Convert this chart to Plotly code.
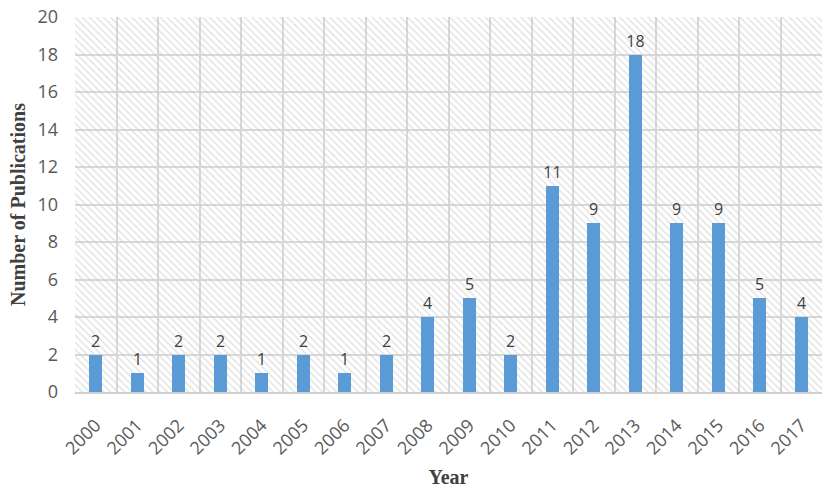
import plotly.graph_objects as go

years = ["2000", "2001", "2002", "2003", "2004", "2005", "2006", "2007", "2008",
         "2009", "2010", "2011", "2012", "2013", "2014", "2015", "2016", "2017"]
publications = [2, 1, 2, 2, 1, 2, 1, 2, 4, 5, 2, 11, 9, 18, 9, 9, 5, 4]
y_ticks = [0, 2, 4, 6, 8, 10, 12, 14, 16, 18, 20]

y_max = y_ticks[-1]
xpos = list(range(len(years)))

fig = go.Figure()

# hatched plot-area background
fig.add_trace(go.Bar(
    x=xpos, y=[y_max] * len(years), width=1.0,
    marker=dict(color="rgba(0,0,0,0)", line=dict(width=0),
                pattern=dict(shape="\\", fgcolor="#c8c8c8", bgcolor="rgba(255,255,255,0)",
                             size=5, solidity=0.3)),
    hoverinfo="skip", showlegend=False,
))

fig.add_trace(go.Bar(
    x=xpos, y=publications, width=0.32,
    marker=dict(color="#5b9bd5", line=dict(width=0)),
    text=[str(v) for v in publications], textposition="outside",
    constraintext="none",
    textfont=dict(family="Open Sans", size=16, color="#404040"),
    cliponaxis=False, showlegend=False,
))

fig.update_layout(
    width=825, height=492,
    margin=dict(l=75, r=3, t=17, b=100),
    paper_bgcolor="white", plot_bgcolor="white",
    barmode="overlay", bargap=0,
    uniformtext=dict(mode=False),
    xaxis=dict(
        range=[-0.5, len(years) - 0.5],
        tickmode="array", tickvals=xpos, ticktext=years, tickangle=-45,
        tickfont=dict(family="Open Sans", size=18, color="#595959"),
        ticklabelstandoff=14,
        showgrid=False, zeroline=False,
        showline=True, linecolor="#d0d0d0", linewidth=1.5,
        ticks="",
        minor=dict(showgrid=True, gridcolor="#d9d9d9", gridwidth=1.5,
                   tickmode="linear", tick0=-0.5, dtick=1),
        title=dict(text="<b>Year</b>", font=dict(family="Liberation Serif", size=20, color="#404040"),
                   standoff=12),
    ),
    yaxis=dict(
        range=[0, y_max], tickvals=y_ticks,
        tickfont=dict(family="Open Sans", size=18, color="#595959"),
        ticklabelstandoff=16,
        showgrid=True, gridcolor="#d9d9d9", gridwidth=1.5,
        zeroline=False, ticks="", ticklen=0,
        title=dict(text="<b>Number of Publications</b>",
                   font=dict(family="Liberation Serif", size=20, color="#404040"), standoff=6),
    ),
)

fig.write_html("out.html")
